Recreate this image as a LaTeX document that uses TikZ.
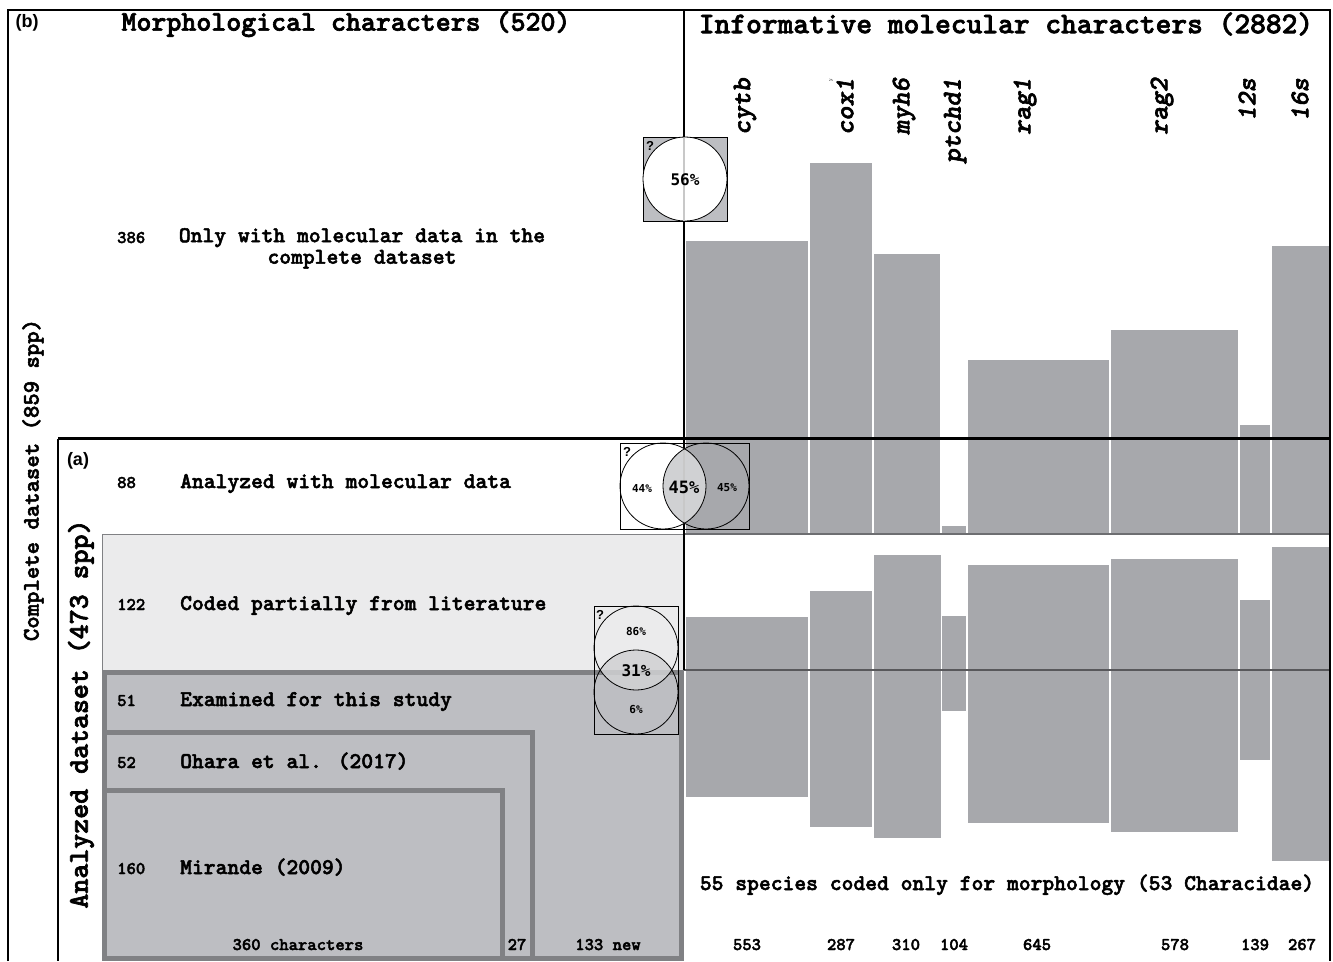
\documentclass[tikz,border=0pt]{standalone}
\usepackage{fontspec}
\newfontfamily\dmono{DejaVu Sans Mono}
\newfontfamily\sansb{Liberation Sans}
\newfontfamily\courfam{lmmonolt10-bold.otf}[ItalicFont=lmmonolt10-boldoblique.otf, FakeBold=2.2]
\newcommand\cour{\courfam}
\definecolor{barg}{HTML}{A7A8AC}
\definecolor{exg}{HTML}{BDBEC2}
\definecolor{exb}{HTML}{808184}
\definecolor{litg}{HTML}{EBEBEC}
\definecolor{vint}{HTML}{D0D1D3}
\definecolor{midline}{HTML}{6D6E71}
\definecolor{darkline}{HTML}{58585B}
\definecolor{faint}{HTML}{C8C8C8}
\begin{document}
\begin{tikzpicture}[x=1pt,y=-1pt,
  hdr/.style={font=\cour\fontsize{28.5}{30}\selectfont, inner sep=0pt},
  mtext/.style={font=\cour\fontsize{22.5}{24}\selectfont, anchor=base west, inner sep=0pt},
  num/.style={font=\cour\fontsize{17.8}{19}\selectfont, anchor=base west, inner sep=0pt},
  bnum/.style={font=\cour\fontsize{17.8}{19}\selectfont, anchor=base, inner sep=0pt},
  gene/.style={font=\cour\itshape\fontsize{27}{29}\selectfont, rotate=90, anchor=east, inner sep=0pt},
  vlab/.style={font=\cour\fontsize{23.6}{25}\selectfont, rotate=90, inner sep=0pt},
  pct/.style={font=\dmono\bfseries\fontsize{11}{12}\selectfont, inner sep=0pt},
  bigpct/.style={font=\dmono\bfseries\fontsize{16}{18}\selectfont, inner sep=0pt},
  qm/.style={font=\sansb\bfseries\fontsize{13}{14}\selectfont, inner sep=0pt},
  panel/.style={font=\sansb\bfseries\fontsize{18}{20}\selectfont, inner sep=0pt},
  bar/.style={fill=barg, draw=none},
  vline/.style={draw=black, line width=0.8pt}
]
\useasboundingbox (0,0) rectangle (1333,961);

% ---- morphological boxes ----
\filldraw[fill=litg, draw=exb, line width=0.8] (102,534) rectangle (684,670);
\filldraw[fill=exg, draw=exb, line width=5] (104.5,672.5) rectangle (681.5,958.5);
\draw[exb, line width=5] (104.5,732) -- (532,732) -- (532,958.5);
\draw[exb, line width=5] (104.5,790) -- (502,790) -- (502,958.5);

% ---- upper bars (complete dataset) ----
\foreach \a/\b/\t in {686/808/241, 810/872/163, 874/940/254, 942/966/526,
  968/1109/360, 1111/1238/330, 1240/1270/425, 1272/1329/246}
  \fill[bar] (\a,\t) rectangle (\b,534);
% ---- lower bars (analyzed dataset) ----
\foreach \a/\b/\t/\u in {686/808/617/797, 810/872/591/827, 874/941/555/838,
  942/966/616/711, 968/1109/565/823, 1111/1238/559/832, 1240/1270/600/760,
  1272/1329/547/861}
  \fill[bar] (\a,\t) rectangle (\b,\u);

% ---- lines ----
\draw[midline, line width=2] (684,534) -- (1330,534);
\draw[darkline, line width=2.5] (684,670) -- (1330,670);
\draw[black, line width=2] (8,961) -- (8,10) -- (1330,10) -- (1330,961);
\draw[black, line width=2] (684,10) -- (684,670);
\draw[black, line width=2.5] (58,438.5) -- (1330,438.5);
\draw[black, line width=1.5] (58,438.5) -- (58,961);

% ---- Venn 56% ----
\filldraw[fill=exg, vline] (643,137) rectangle (727,221);
\filldraw[fill=white, vline] (685,179) circle (42);
\draw[faint, line width=1.5] (684,137.5) -- (684,220.5);
\node[qm] (q1) at (650,146) {?};
\node[bigpct] (p56) at (685,180) {56\%};

% ---- Venn 45% ----
\fill[white] (663,486) circle (43);
\begin{scope}
  \clip (663,486) circle (43);
  \fill[vint] (706,486) circle (43);
\end{scope}
\draw[faint, line width=1.5] (684,448) -- (684,524);
\draw[vline] (663,486) circle (43);
\draw[vline] (706,486) circle (43);
\draw[vline] (620,443) rectangle (749,529);
\node[qm] (q2) at (627,452) {?};
\node[pct] (p44) at (642,488) {44\%};
\node[bigpct, font=\dmono\bfseries\fontsize{17}{18}\selectfont] (p45) at (684,487) {45\%};
\node[pct] (p45b) at (727,488) {45\%};

% ---- Venn 31% ----
\begin{scope}
  \clip (636,648) circle (42);
  \fill[vint, opacity=.85] (636,692) circle (42);
\end{scope}
\draw[vline] (636,648) circle (42);
\draw[vline] (636,692) circle (42);
\draw[vline] (594,606) rectangle (678,734);
\node[qm] (q3) at (600,615) {?};
\node[pct] (p86) at (636,631) {86\%};
\node[bigpct] (p31) at (636,671) {31\%};
\node[pct] (p6) at (636,709) {6\%};

% ---- headers ----
\node[panel] (b) at (27,23) {(b)};
\node[panel] (a) at (78,461) {(a)};
\node[hdr] (morph) at (346,24) {Morphological characters (520)};
\node[hdr, font=\cour\fontsize{30}{31}\selectfont] (mol) at (1006,24) {Informative molecular characters (2882)};

% ---- gene labels ----
\node[gene] (g1) at (745,78) {cytb};
\node[gene] (g2) at (845,78) {cox1};
\node[gene] (g3) at (904,78) {myh6};
\node[gene] (g4) at (955,78) {ptchd1};
\node[gene] (g5) at (1025,78) {rag1};
\node[gene] (g6) at (1162,78) {rag2};
\node[gene] (g7) at (1247,78) {12s};
\node[gene] (g8) at (1300,78) {16s};
\node[font=\dmono\fontsize{3}{3}\selectfont, inner sep=0pt] (tiny) at (831,80) {2\%};

% ---- vertical labels ----
\node[vlab] (cd) at (33,480) {Complete dataset (859 spp)};
\node[vlab, font=\cour\fontsize{28.5}{30}\selectfont] (ad) at (81,714) {Analyzed dataset (473 spp)};

% ---- row labels ----
\node[num] (n386) at (117,243) {386};
\node[font=\cour\fontsize{22.5}{21.5}\selectfont, align=center, inner sep=0pt, anchor=north] (t386) at (362,228) {Only with molecular data in the\\complete dataset};
\node[num] (n88) at (117,488) {88};
\node[mtext] (t88) at (180,488) {Analyzed with molecular data};
\node[num] (n122) at (117,610) {122};
\node[mtext] (t122) at (180,610) {Coded partially from literature};
\node[num] (n51) at (117,706) {51};
\node[mtext] (t51) at (180,706) {Examined for this study};
\node[num] (n52) at (117,768) {52};
\node[mtext] (t52) at (180,768) {Ohara et al. (2017)};
\node[num] (n160) at (117,874) {160};
\node[mtext] (t160) at (180,874) {Mirande (2009)};
\node[bnum] (c360) at (298,950) {360 characters};
\node[bnum] (c27) at (517,950) {27};
\node[bnum] (c133) at (608,950) {133 new};

% ---- right bottom ----
\node[font=\cour\fontsize{22.5}{24}\selectfont, anchor=base, inner sep=0pt] (sp55) at (1007,890) {55 species coded only for morphology (53 Characidae)};
\foreach \x/\v [count=\i] in {747/553, 841/287, 906/310, 954/104, 1037/645, 1175/578, 1255/139, 1302/267}
  \node[bnum] (cnt\i) at (\x,950) {\v};
\end{tikzpicture}
\end{document}
